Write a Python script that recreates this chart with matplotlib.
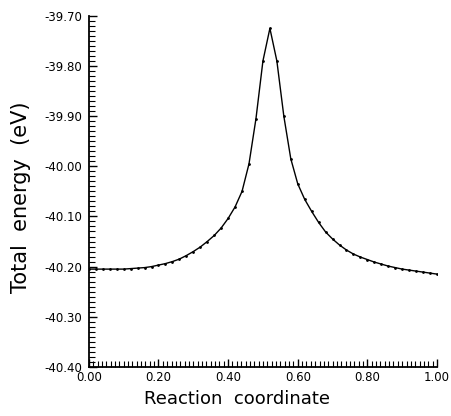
import matplotlib
matplotlib.use('Agg')
from matplotlib import pyplot as plt
from matplotlib.ticker import MultipleLocator

coord = [0.00, 0.02, 0.04, 0.06, 0.08, 0.10, 0.12, 0.14, 0.16, 0.18,
         0.20, 0.22, 0.24, 0.26, 0.28, 0.30, 0.32, 0.34, 0.36, 0.38,
         0.40, 0.42, 0.44, 0.46, 0.48, 0.50, 0.52, 0.54, 0.56, 0.58,
         0.60, 0.62, 0.64, 0.66, 0.68, 0.70, 0.72, 0.74, 0.76, 0.78,
         0.80, 0.82, 0.84, 0.86, 0.88, 0.90, 0.92, 0.94, 0.96, 0.98, 1.00]
energy = [-40.205, -40.205, -40.205, -40.205, -40.205, -40.205, -40.204, -40.203, -40.202, -40.200,
          -40.197, -40.194, -40.190, -40.185, -40.178, -40.170, -40.161, -40.150, -40.138, -40.123,
          -40.104, -40.081, -40.050, -39.995, -39.905, -39.790, -39.725, -39.790, -39.900, -39.985,
          -40.035, -40.066, -40.090, -40.112, -40.131, -40.145, -40.157, -40.167, -40.175, -40.181,
          -40.186, -40.191, -40.195, -40.199, -40.202, -40.205, -40.207, -40.209, -40.211, -40.213, -40.215]

xticks = [0.0, 0.2, 0.4, 0.6, 0.8, 1.0]
yticks = [-39.70, -39.80, -39.90, -40.00, -40.10, -40.20, -40.30, -40.40]

fig = plt.figure(figsize=(4.51, 4.16), dpi=100)
ax = fig.add_axes([0.197, 0.118, 0.772, 0.844])

ax.plot(coord, energy, color='black', linewidth=1.0, marker='.', markersize=2)

ax.set_xlim(0, 1)
ax.set_ylim(-40.40, -39.70)
ax.set_xticks(xticks)
ax.set_xticklabels(['%.2f' % v for v in xticks])
ax.set_yticks(yticks)
ax.set_yticklabels(['%.2f' % v for v in yticks])
ax.xaxis.set_minor_locator(MultipleLocator(0.0125))
ax.yaxis.set_minor_locator(MultipleLocator(0.01))
ax.tick_params(direction='in', which='major', length=6, width=1, labelsize=8.5)
ax.tick_params(axis='x', which='major', pad=3)
ax.tick_params(axis='y', which='major', pad=5)
ax.tick_params(direction='in', which='minor', length=4, width=0.8)

for s in ['top', 'right']:
    ax.spines[s].set_visible(False)
for s in ['left', 'bottom']:
    ax.spines[s].set_linewidth(1.3)

ax.set_xlabel('Reaction  coordinate', fontsize=13)
ax.set_ylabel('Total  energy  (eV)', fontsize=15)
ax.xaxis.set_label_coords(0.425, -0.065)
ax.yaxis.set_label_coords(-0.165, 0.484)

plt.savefig('out.png', dpi=100)
